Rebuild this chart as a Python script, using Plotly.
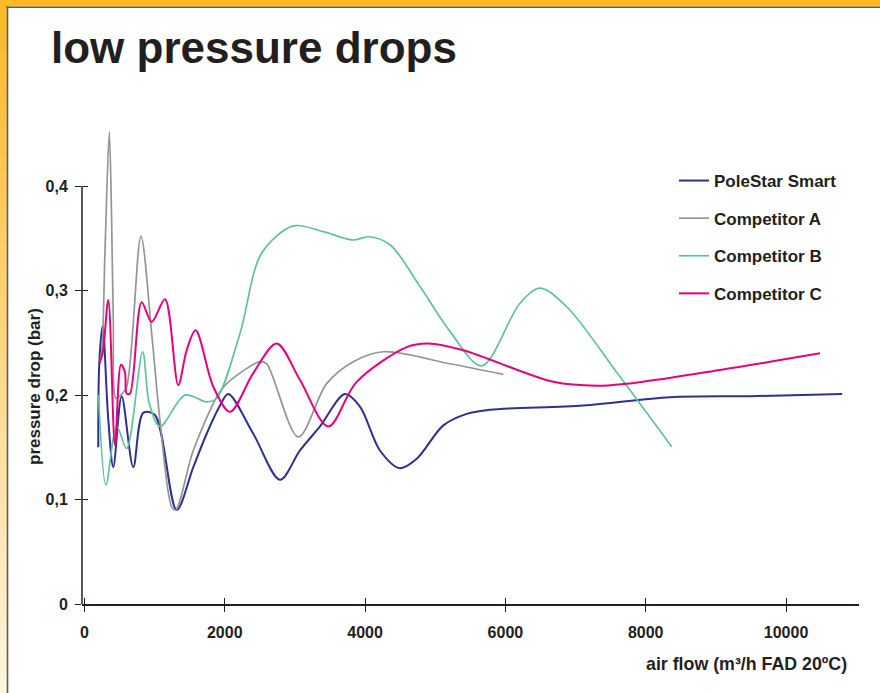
import plotly.graph_objects as go

# ---------------- data ----------------
series_names = ["PoleStar Smart", "Competitor A", "Competitor B", "Competitor C"]
series_colors = ["#2E3192", "#939598", "#5EC39C", "#E8007D"]

polestar_x = [197, 211, 259, 340, 411, 530, 696, 838, 1005, 1314, 1551, 1742, 1932,
              2050, 2406, 2787, 3072, 3357, 3713, 3927, 4212, 4497, 4736, 5115, 5448,
              5780, 7111, 8346, 9487, 10800]
polestar_y = [0.150, 0.230, 0.266, 0.176, 0.131, 0.199, 0.131, 0.183, 0.181, 0.090,
              0.131, 0.163, 0.190, 0.201, 0.163, 0.119, 0.147, 0.170, 0.201, 0.189,
              0.147, 0.130, 0.139, 0.171, 0.182, 0.186, 0.190, 0.198, 0.199, 0.201]

compA_x = [211, 245, 292, 354, 387, 411, 449, 520, 601, 805, 958, 1076, 1243, 1300,
           1551, 1884, 2027, 2502, 2597, 3048, 3452, 3832, 4259, 5210, 5970]
compA_y = [0.230, 0.240, 0.336, 0.452, 0.368, 0.272, 0.197, 0.200, 0.208, 0.352,
           0.259, 0.176, 0.093, 0.090, 0.147, 0.198, 0.211, 0.232, 0.230, 0.160,
           0.211, 0.232, 0.2415, 0.230, 0.2198]

compB_x = [200, 306, 460, 601, 829, 924, 1076, 1433, 1742, 1884, 2217, 2526, 2977,
           3404, 3832, 4046, 4355, 4783, 5210, 5662, 6207, 6493, 6874, 7634, 8370]
compB_y = [0.200, 0.114, 0.170, 0.149, 0.2415, 0.192, 0.170, 0.200, 0.1936, 0.197,
           0.259, 0.336, 0.362, 0.3565, 0.3485, 0.3516, 0.344, 0.304, 0.261, 0.228,
           0.288, 0.3024, 0.2846, 0.2175, 0.1505]

compC_x = [211, 259, 340, 435, 520, 577, 601, 649, 815, 958, 1148, 1337, 1457, 1585,
           1836, 2074, 2406, 2740, 3072, 3475, 3880, 4593, 4900, 5400, 6683, 7301,
           7871, 9059, 10485]
compC_y = [0.230, 0.240, 0.291, 0.152, 0.229, 0.222, 0.2016, 0.2016, 0.289, 0.270,
           0.2917, 0.2096, 0.243, 0.262, 0.208, 0.184, 0.221, 0.2495, 0.2144, 0.170,
           0.2127, 0.246, 0.2495, 0.243, 0.2127, 0.209, 0.212, 0.224, 0.240]

series_x = [polestar_x, compA_x, compB_x, compC_x]
series_y = [polestar_y, compA_y, compB_y, compC_y]
series_width = [2.0, 1.7, 1.7, 2.0]

x_ticks = [0, 2000, 4000, 6000, 8000, 10000]
x_ticktext = ["0", "2000", "4000", "6000", "8000", "10000"]
y_ticks = [0, 0.1, 0.2, 0.3, 0.4]
y_ticktext = ["0", "0,1", "0,2", "0,3", "0,4"]

title_text = "low pressure drops"
x_title = "air flow (m³/h FAD 20ºC)"
y_title = "pressure drop (bar)"

# ---------------- layout geometry ----------------
W, H = 880, 693
ML, MR, MT, MB = 82, 21, 120, 89
PW = W - ML - MR
PH = H - MT - MB
X_RANGE = [-35, 11040]
Y_RANGE = [0, 0.4634]

def px_x(p):
    return (p - ML) / PW

def px_y(p):
    return (H - MB - p) / PH

INK = "#231F20"
FONT = "Liberation Sans, Arial, sans-serif"

fig = go.Figure()
for name, xs, ys, col, lw in zip(series_names, series_x, series_y, series_colors, series_width):
    fig.add_trace(go.Scatter(
        x=xs, y=ys, name=name, mode="lines",
        line=dict(color=col, width=lw, shape="spline", smoothing=0.9),
        legendgroup=name,
    ))

# dummy trace for overlay axes (crossing ticks)
fig.add_trace(go.Scatter(x=[None], y=[None], xaxis="x2", yaxis="y2",
                         showlegend=False, hoverinfo="skip"))

shapes = []
# frame: top band
shapes.append(dict(type="rect", xref="paper", yref="paper",
                   x0=px_x(0), x1=px_x(W), y0=px_y(0), y1=px_y(6.5),
                   fillcolor="#FDB924", line=dict(width=0), layer="below"))
# left gradient band
N = 40
c0 = (253, 184, 39)
c1 = (255, 244, 222)
for i in range(N):
    t = i / (N - 1)
    col = "rgb(%d,%d,%d)" % tuple(round(a + (b - a) * t) for a, b in zip(c0, c1))
    shapes.append(dict(type="rect", xref="paper", yref="paper",
                       x0=px_x(0), x1=px_x(6.8),
                       y0=px_y(H * i / N), y1=px_y(H * (i + 1) / N + 0.5),
                       fillcolor=col, line=dict(width=0), layer="below"))
# dark inner edge lines
shapes.append(dict(type="line", xref="paper", yref="paper",
                   x0=px_x(6.5), x1=px_x(W), y0=px_y(7.2), y1=px_y(7.2),
                   line=dict(color="#5E5B50", width=1.6), layer="below"))
shapes.append(dict(type="line", xref="paper", yref="paper",
                   x0=px_x(7.5), x1=px_x(7.5), y0=px_y(6.5), y1=px_y(H),
                   line=dict(color="#5E5B50", width=1.6), layer="below"))
# y axis line only from 0 to 0.4
shapes.append(dict(type="line", xref="paper", yref="y",
                   x0=0, x1=0, y0=-0.006, y1=y_ticks[-1],
                   line=dict(color=INK, width=1.5)))

annotations = [
    dict(text=title_text, xref="paper", yref="paper",
         x=px_x(49), y=px_y(21), xanchor="left", yanchor="top", showarrow=False,
         font=dict(family=FONT, size=44, color=INK, weight="bold")),
    dict(text=x_title, xref="paper", yref="paper",
         x=px_x(849), y=px_y(664), xanchor="right", yanchor="middle", showarrow=False,
         font=dict(family=FONT, size=17.8, color=INK, weight="bold")),
    dict(text=y_title, xref="paper", yref="paper",
         x=px_x(34), y=px_y(387), xanchor="center", yanchor="middle", showarrow=False,
         textangle=-90, font=dict(family=FONT, size=17, color=INK, weight="bold")),
]

fig.update_layout(
    width=W, height=H,
    margin=dict(l=ML, r=MR, t=MT, b=MB),
    paper_bgcolor="white", plot_bgcolor="rgba(0,0,0,0)",
    font=dict(family=FONT, color=INK),
    showlegend=True,
    legend=dict(x=px_x(674), y=px_y(163), xanchor="left", yanchor="top",
                font=dict(family=FONT, size=17, color=INK, weight="bold"),
                traceorder="grouped", tracegroupgap=12.5,
                bgcolor="rgba(0,0,0,0)", borderwidth=0),
    shapes=shapes,
    annotations=annotations,
    xaxis=dict(range=X_RANGE, tickvals=x_ticks, ticktext=x_ticktext,
               ticks="outside", ticklen=6, tickwidth=1.3, tickcolor=INK,
               showline=True, linecolor=INK, linewidth=1.5,
               showgrid=False, zeroline=False, ticklabelstandoff=7,
               tickfont=dict(family=FONT, size=16, color=INK, weight="bold")),
    yaxis=dict(range=Y_RANGE, tickvals=y_ticks, ticktext=y_ticktext,
               ticks="outside", ticklen=6, tickwidth=1.3, tickcolor=INK,
               showline=False, showgrid=False, zeroline=False, ticklabelstandoff=4,
               tickfont=dict(family=FONT, size=16, color=INK, weight="bold")),
    xaxis2=dict(range=X_RANGE, overlaying="x", anchor="y2", side="bottom",
                tickvals=x_ticks, ticks="inside", ticklen=6, tickwidth=1.3, tickcolor=INK,
                showticklabels=False, showline=False, showgrid=False, zeroline=False),
    yaxis2=dict(range=Y_RANGE, overlaying="y", anchor="x2", side="left",
                tickvals=y_ticks, ticks="inside", ticklen=6, tickwidth=1.3, tickcolor=INK,
                showticklabels=False, showline=False, showgrid=False, zeroline=False),
)

post_js = "document.body.style.margin = '0';"

fig.write_html("out.html", post_script=post_js, config={"displayModeBar": False})
